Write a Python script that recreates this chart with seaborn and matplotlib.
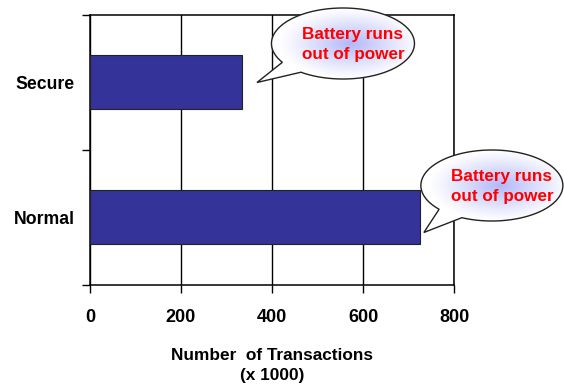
import numpy as np
import pandas as pd
import matplotlib
matplotlib.use("Agg")
import matplotlib.pyplot as plt
from matplotlib.path import Path
from matplotlib.patches import PathPatch
import seaborn as sns

# ---- data ----
categories = ["Secure", "Normal"]
transactions = [334, 725]          # x 1000
x_ticks = [0, 200, 400, 600, 800]
callout_text = "Battery runs\nout of power"

sns.set_theme(style="white")
plt.rcParams['font.family'] = ['Liberation Sans', 'DejaVu Sans']
plt.rcParams['font.weight'] = 'bold'
for k in ['text.color', 'axes.labelcolor', 'xtick.color', 'ytick.color']:
    plt.rcParams[k] = 'black'

W, H = 564, 386
fig = plt.figure(figsize=(W / 100, H / 100), dpi=100)
fig.patch.set_facecolor("white")
ax = fig.add_axes([90 / W, 1 - 285 / H, (454 - 90) / W, (285 - 15) / H])

df = pd.DataFrame({"category": categories, "value": transactions})
sns.barplot(data=df, x="value", y="category", orient="h", width=0.4,
            color="#333399", saturation=1, edgecolor="#222222", linewidth=0.8,
            ax=ax, zorder=3)

ax.set_xlim(0, 800)
ax.set_ylim(1.5, -0.5)
ax.set_xticks(x_ticks)
ax.set_xticklabels([str(t) for t in x_ticks], fontsize=13, fontweight='bold')
ax.tick_params(axis='x', direction='out', length=6, width=1, color='black',
               pad=11, bottom=True, labelcolor='black')
ax.set_yticks([0, 1])
ax.set_yticklabels(categories, fontsize=12.7, fontweight='bold')
ax.tick_params(axis='y', which='major', length=0, pad=11, labelcolor='black')
ax.set_yticks([-0.5, 0.5, 1.5], minor=True)
ax.tick_params(axis='y', which='minor', direction='out', length=6, width=1,
               color='black', left=True)
ax.xaxis.grid(True, color='black', linewidth=1)
ax.set_axisbelow(True)
for s in ax.spines.values():
    s.set_visible(True)
    s.set_color('black')
    s.set_linewidth(1.1)
ax.set_xlabel("Number  of Transactions\n(x 1000)", fontsize=12.4,
              fontweight='bold', labelpad=16, linespacing=1.4, color='black')
ax.set_ylabel("")

# ---- callouts (overlay in pixel coords) ----
ov = fig.add_axes([0, 0, 1, 1])
ov.set_xlim(0, W)
ov.set_ylim(0, H)
ov.axis('off')
ov.patch.set_alpha(0)

# per-callout offsets (pixels) relative to the bar end
offsets = [
    dict(tip=(15, 0), center=(101, 39), a=71.5, b=35.5, ang=(212, 234)),
    dict(tip=(4, -15), center=(72, 32), a=71, b=35.5, ang=(222, 245)),
]

blue = np.array([178, 184, 248]) / 255.0
white = np.array([1.0, 1.0, 1.0])

for i, (val, o) in enumerate(zip(transactions, offsets)):
    ex, ey = ax.transData.transform((val, i))
    tx, ty = ex + o['tip'][0], ey + o['tip'][1]
    cx, cy = ex + o['center'][0], ey + o['center'][1]
    a, b = o['a'], o['b']
    a1, a2 = np.deg2rad(o['ang'][0]), np.deg2rad(o['ang'][1])
    t = np.linspace(a2, a1 + 2 * np.pi, 300)
    pts = np.column_stack([cx + a * np.cos(t), cy + b * np.sin(t)])
    pts = np.vstack([pts, [[tx, ty]], pts[:1]])
    codes = [Path.MOVETO] + [Path.LINETO] * (len(pts) - 2) + [Path.CLOSEPOLY]
    path = Path(pts, codes)
    base = PathPatch(path, facecolor='white', edgecolor='none', zorder=5)
    ov.add_patch(base)
    # radial gradient
    n = 200
    gx, gy = np.meshgrid(np.linspace(-1, 1, n), np.linspace(-1, 1, n))
    r = np.clip(np.sqrt(gx ** 2 + gy ** 2), 0, 1)
    w = (1 - r) ** 1.1
    img = white[None, None, :] * (1 - w[..., None]) + blue[None, None, :] * w[..., None]
    im = ov.imshow(img, extent=(cx - a + 8, cx + a + 8, cy - b, cy + b), origin='lower',
                   zorder=6, interpolation='bilinear', aspect='auto')
    im.set_clip_path(base)
    outline = PathPatch(path, facecolor='none', edgecolor='#222222',
                        linewidth=1.0, zorder=7)
    ov.add_patch(outline)
    ov.text(cx + 10, cy - 1, callout_text, color='#ff0000', fontsize=12.3,
            fontweight='bold', ha='center', va='center', zorder=8,
            linespacing=1.4)

ov.set_xlim(0, W)
ov.set_ylim(0, H)

fig.savefig("out.png", dpi=100)
